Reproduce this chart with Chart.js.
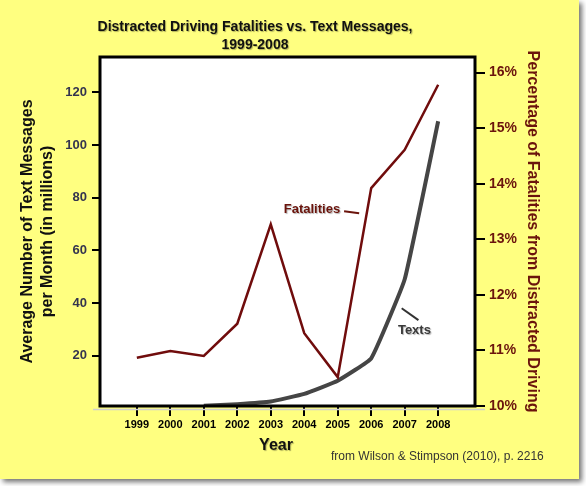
<!DOCTYPE html>
<html>
<head>
<meta charset="utf-8">
<title>Distracted Driving Fatalities vs. Text Messages</title>
<script src="https://cdn.jsdelivr.net/npm/chart.js@4.4.1/dist/chart.umd.min.js"></script>
<style>
  html, body { margin: 0; padding: 0; background: #fff; }
  canvas { display: block; }
</style>
</head>
<body>
<canvas id="chart" width="586" height="486"></canvas>
<script>
// values
const years = [1999, 2000, 2001, 2002, 2003, 2004, 2005, 2006, 2007, 2008];
const fatalityPct = [10.87, 10.99, 10.9, 11.48, 13.27, 11.31, 10.52, 13.92, 14.61, 15.78];
const textsMillions = [null, null, 1.0, 1.6, 2.6, 5.5, 10.5, 19, 49, 109];
const leftTicks = [20, 40, 60, 80, 100, 120];
const rightTicks = [10, 11, 12, 13, 14, 15, 16];

const FONT = "'Liberation Sans', Arial, Helvetica, sans-serif";
const MAROON = '#6b140c';
const SLATE = '#34344e';

Chart.defaults.font.family = FONT;

function shadowText(ctx, text, x, y, font, color, align) {
    ctx.save();
    ctx.font = font;
    ctx.textAlign = align || 'center';
    ctx.textBaseline = 'middle';
    ctx.shadowColor = 'rgba(0,0,0,0.3)';
    ctx.shadowOffsetX = 1;
    ctx.shadowOffsetY = 1;
    ctx.shadowBlur = 1;
    ctx.fillStyle = color;
    ctx.fillText(text, x, y);
    ctx.restore();
}

function segment(ctx, x1, y1, x2, y2, color, w) {
    ctx.save();
    ctx.strokeStyle = color;
    ctx.lineWidth = w;
    ctx.beginPath();
    ctx.moveTo(x1, y1);
    ctx.lineTo(x2, y2);
    ctx.stroke();
    ctx.restore();
}

const decorations = {
    id: 'decorations',
    beforeDraw(chart) {
        const { ctx, chartArea: a } = chart;
        ctx.save();
        ctx.fillStyle = '#fff';
        ctx.fillRect(0, 0, chart.width, chart.height);
        ctx.shadowColor = 'rgba(0,0,0,0.55)';
        ctx.shadowBlur = 5;
        ctx.shadowOffsetX = 3;
        ctx.shadowOffsetY = 3;
        ctx.fillStyle = '#ffff80';
        ctx.fillRect(0, 0, 579, 479);
        ctx.restore();
        ctx.fillStyle = '#fff';
        ctx.fillRect(a.left, a.top, a.right - a.left, a.bottom - a.top);
    },
    afterDatasetsDraw(chart) {
        const { ctx, chartArea: a, scales } = chart;
        // plot frame
        ctx.save();
        ctx.strokeStyle = '#000';
        ctx.lineWidth = 3;
        ctx.strokeRect(a.left, a.top, a.right - a.left, a.bottom - a.top);
        ctx.restore();
        segment(ctx, a.left - 7, a.bottom + 3.5, a.right + 10, a.bottom + 3.5, '#cfcfcf', 1.5);

        // series labels
        const x = scales.x, yR = scales.yR, yL = scales.y;
        shadowText(ctx, 'Fatalities', x.getPixelForValue(2004.23), yR.getPixelForValue(13.54),
            'bold 13px ' + FONT, MAROON);
        segment(ctx, x.getPixelForValue(2005.19), yR.getPixelForValue(13.54) + 2,
            x.getPixelForValue(2005.64), yR.getPixelForValue(13.54) + 4, MAROON, 2);
        shadowText(ctx, 'Texts', x.getPixelForValue(2007.29), yL.getPixelForValue(29.5),
            'bold 13px ' + FONT, '#3a3a3a');
        segment(ctx, x.getPixelForValue(2006.91), yL.getPixelForValue(38),
            x.getPixelForValue(2007.41), yL.getPixelForValue(33.5), '#333', 2);
    },
    afterDraw(chart) {
        const { ctx } = chart;
        shadowText(ctx, 'Distracted Driving Fatalities vs. Text Messages,', 255, 27, 'bold 14px ' + FONT, '#111');
        shadowText(ctx, '1999-2008', 255, 45, 'bold 14px ' + FONT, '#111');
        shadowText(ctx, 'Year', 276, 446, 'bold 16px ' + FONT, '#111');
        ctx.save();
        ctx.font = '12px ' + FONT;
        ctx.fillStyle = '#333';
        ctx.textAlign = 'left';
        ctx.textBaseline = 'middle';
        ctx.fillText('from Wilson & Stimpson (2010), p. 2216', 331, 457);
        ctx.restore();
    }
};

const ctx = document.getElementById('chart').getContext('2d');

const chart = new Chart(ctx, {
    type: 'line',
    data: {
        datasets: [{
            label: 'Fatalities',
            data: years.map((yr, i) => ({ x: yr, y: fatalityPct[i] })),
            yAxisID: 'yR',
            borderColor: '#700c0c',
            borderWidth: 2.5,
            pointRadius: 0,
            tension: 0
        }, {
            label: 'Texts',
            data: years.map((yr, i) => ({ x: yr, y: textsMillions[i] })),
            yAxisID: 'y',
            borderColor: '#454545',
            borderWidth: 4,
            pointRadius: 0,
            tension: 0.1
        }]
    },
    options: {
        responsive: false,
        animation: false,
        devicePixelRatio: 1,
        layout: { padding: { top: 57, left: 0, right: 0, bottom: 0 } },
        plugins: {
            legend: { display: false },
            title: { display: false },
            tooltip: { enabled: false }
        },
        scales: {
            x: {
                type: 'linear',
                min: 1997.9,
                max: 2009.1,
                afterBuildTicks: axis => { axis.ticks = years.map(v => ({ value: v })); },
                afterFit: axis => { axis.height = 80; },
                ticks: {
                    callback: v => String(v),
                    color: '#000',
                    font: { size: 11, weight: 'bold' },
                    padding: 2,
                    maxRotation: 0,
                    autoSkip: false
                },
                grid: { drawOnChartArea: false, color: '#000', lineWidth: 2, tickLength: 10 },
                border: { display: false }
            },
            y: {
                position: 'left',
                min: 0.9,
                max: 133.4,
                afterBuildTicks: axis => { axis.ticks = leftTicks.map(v => ({ value: v })); },
                afterFit: axis => { axis.width = 100; },
                ticks: {
                    callback: v => String(v),
                    color: SLATE,
                    font: { size: 13, weight: 'bold' },
                    padding: 5
                },
                grid: { drawOnChartArea: false, color: '#000', lineWidth: 2, tickLength: 8 },
                border: { display: false },
                title: {
                    display: true,
                    text: ['Average Number of Text Messages', 'per Month (in millions)'],
                    color: '#111',
                    font: { size: 16, weight: 'bold', lineHeight: 1.25 },
                    padding: { top: 18, bottom: 0 }
                }
            },
            yR: {
                position: 'right',
                min: 10,
                max: 16.28,
                afterBuildTicks: axis => { axis.ticks = rightTicks.map(v => ({ value: v })); },
                afterFit: axis => { axis.width = 111; },
                ticks: {
                    callback: v => v + '%',
                    color: MAROON,
                    font: { size: 14, weight: 'bold' },
                    padding: 4
                },
                grid: { drawOnChartArea: false, color: '#000', lineWidth: 2, tickLength: 10 },
                border: { display: false },
                title: {
                    display: true,
                    text: 'Percentage of Fatalities from Distracted Driving',
                    color: MAROON,
                    font: { size: 16, weight: 'bold', lineHeight: 1.2 },
                    padding: { top: 44, bottom: 0 }
                }
            }
        }
    },
    plugins: [decorations]
});
</script>
</body>
</html>
